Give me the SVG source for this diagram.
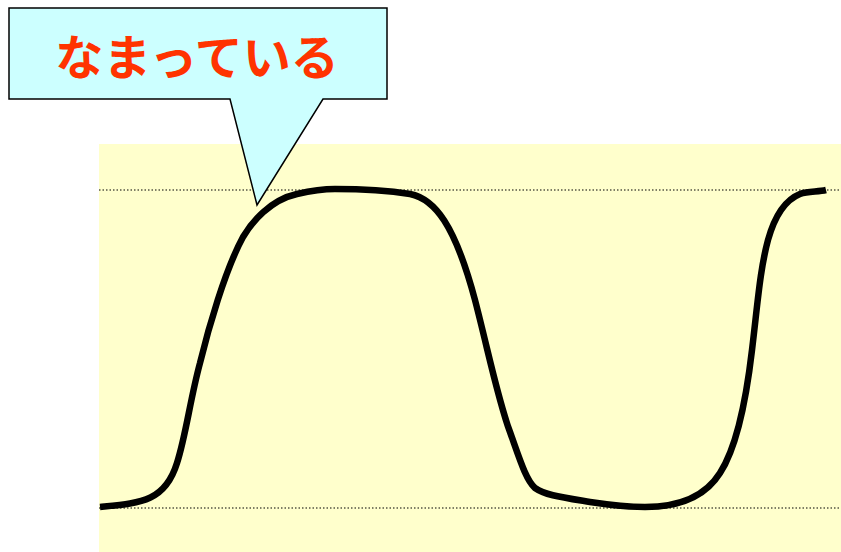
<svg xmlns="http://www.w3.org/2000/svg" width="841" height="552" viewBox="0 0 841 552">
<style>
.guide{stroke:#000;stroke-width:1.2;stroke-dasharray:1.5 2;fill:none}
.curve{stroke:#000;stroke-width:6.5;fill:none;stroke-linecap:butt;stroke-linejoin:round}
.callout{fill:#CCFFFF;stroke:#000;stroke-width:1.5}
.label{font-family:"Noto Sans CJK JP","Noto Sans CJK SC",sans-serif;font-weight:bold;font-size:48px;fill:#FF3300}
</style>
<rect id="plot" x="99" y="144" width="742" height="408" fill="#FFFFCC"/>
<g id="guides">
<line class="guide" x1="99" y1="190" x2="841" y2="190"/>
<line class="guide" x1="99" y1="508" x2="841" y2="508"/>
</g>
<g id="connectors">
<path class="curve" d="M100,507 C140,503 165,502 177,463 C186,435 190,400 200,363 C208,330 225,270 243,237 C252,222 270,200 297,194 C310,191 320,189 335,189 C360,189 385,190 410,194 C435,199 455,225 475,300 C488,350 498,400 510,432 C520,460 526,480 535,488 C545,495 560,497 590,502 C610,505 625,507 645,507 C680,507 705,497 720,473 C735,450 745,410 752,350 C758,300 760,270 768,240 C775,215 785,200 800,194 C808,191 818,192 826,190"/>
</g>
<g id="callout">
<path class="callout" d="M9,8 H387 V99 H323 L257,205 L230,99 H9 Z"/>
<text class="label" x="197" y="75" text-anchor="middle">なまっている</text>
</g>
</svg>
